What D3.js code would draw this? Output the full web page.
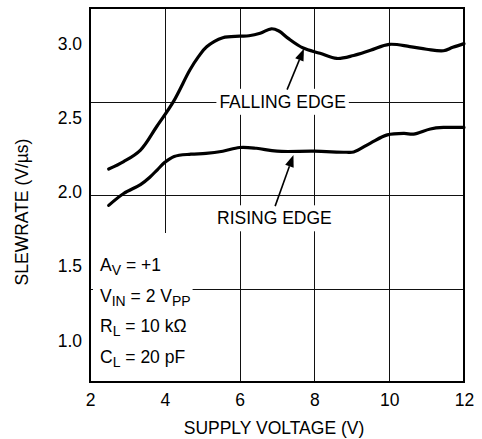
<!DOCTYPE html>
<html>
<head>
<meta charset="utf-8">
<script src="https://cdn.jsdelivr.net/npm/d3@7"></script>
<style>
  html, body { margin: 0; padding: 0; background: #fff; }
  svg { display: block; }
  text { font-family: "Liberation Sans", Arial, Helvetica, sans-serif; fill: #000; }
</style>
</head>
<body>
<svg id="chart" width="482" height="439"></svg>
<script>
// Supply voltage (V) and slew rate (V/µs) readings for each edge
const fallingVolts = [2.5, 2.9, 3.35, 3.78, 4.23, 4.67, 4.9, 5.12, 5.55, 6.0, 6.25, 6.55, 6.85, 7.05, 7.3, 7.7, 8.15, 8.6, 9.05, 9.5, 10.0, 10.55, 11.0, 11.45, 11.7, 12.0];
const fallingSlew  = [2.155, 2.205, 2.283, 2.44, 2.609, 2.822, 2.912, 2.979, 3.04, 3.05, 3.053, 3.07, 3.10, 3.085, 3.035, 2.97, 2.935, 2.90, 2.92, 2.955, 2.995, 2.98, 2.962, 2.952, 2.975, 3.0];
const risingVolts  = [2.5, 2.9, 3.35, 3.6, 3.8, 4.0, 4.25, 4.7, 5.1, 5.55, 6.0, 6.45, 7.0, 8.0, 8.85, 9.05, 9.5, 9.95, 10.4, 10.65, 11.1, 11.45, 12.0];
const risingSlew   = [1.91, 1.99, 2.05, 2.10, 2.15, 2.20, 2.24, 2.255, 2.26, 2.275, 2.30, 2.295, 2.275, 2.275, 2.268, 2.27, 2.33, 2.385, 2.395, 2.39, 2.425, 2.435, 2.435];

const xTicks = [2, 4, 6, 8, 10, 12];
const yTicks = [1.0, 1.5, 2.0, 2.5, 3.0];

const xTitle = "SUPPLY VOLTAGE (V)";
const yTitle = "SLEWRATE (V/µs)";

// Test conditions: [text, isSubscript] pieces
const conditions = [
  [["A", false], ["V", true], [" = +1", false]],
  [["V", false], ["IN", true], [" = 2 V", false], ["PP", true]],
  [["R", false], ["L", true], [" = 10 kΩ", false]],
  [["C", false], ["L", true], [" = 20 pF", false]]
];

// Curve labels with arrow tail/tip in data units
const callouts = [
  { text: "FALLING EDGE", x: 7.15, tail: [7.27, 2.69], tip: [7.72, 2.965] },
  { text: "RISING EDGE",  x: 6.93, y: 1.825, tail: [6.95, 1.905], tip: [7.44, 2.25] }
];

const svg = d3.select("#chart");
const mLeft = 90, mRight = 464, mTop = 8, mBottom = 382;

const x = d3.scaleLinear().domain([2, 12]).range([mLeft, mRight]);
const y = d3.scaleLinear().domain([0.72, 3.24]).range([mBottom, mTop]);
// Horizontal grid divides the frame into four equal bands
const gy = d3.scaleLinear().domain([0, 4]).range([mBottom, mTop]);

const grid = svg.append("g").attr("stroke", "#111").attr("stroke-width", 1);
grid.selectAll("line.v").data(xTicks.slice(1, -1)).join("line")
  .attr("x1", d => Math.round(x(d)) + 0.5).attr("x2", d => Math.round(x(d)) + 0.5)
  .attr("y1", mTop).attr("y2", mBottom);
grid.selectAll("line.h").data([1, 2, 3]).join("line")
  .attr("y1", d => Math.round(gy(d)) + 0.5).attr("y2", d => Math.round(gy(d)) + 0.5)
  .attr("x1", mLeft).attr("x2", mRight);

// Axes: labels only, no tick marks
const xAxis = svg.append("g").attr("transform", `translate(0,${mBottom})`)
  .call(d3.axisBottom(x).tickValues(xTicks).tickFormat(d3.format("d")).tickSize(0).tickPadding(12));
const yAxis = svg.append("g").attr("transform", `translate(${mLeft},0)`)
  .call(d3.axisLeft(y).tickValues(yTicks).tickFormat(d3.format(".1f")).tickSize(0).tickPadding(8));
[xAxis, yAxis].forEach(a => {
  a.select(".domain").remove();
  a.selectAll("text").attr("font-size", 17.5).attr("font-family", "Liberation Sans, Arial, sans-serif").attr("fill", "#000");
});

svg.append("text").attr("x", 274).attr("y", 434).attr("text-anchor", "middle")
  .attr("font-size", 17.5).text(xTitle);
svg.append("text").attr("transform", "translate(28,212) rotate(-90)")
  .attr("text-anchor", "middle").attr("font-size", 17.5).text(yTitle);

// Curves
const line = d3.line().x(d => x(d[0])).y(d => y(d[1])).curve(d3.curveCatmullRom.alpha(0.5));
const series = [d3.zip(fallingVolts, fallingSlew), d3.zip(risingVolts, risingSlew)];
svg.append("g").selectAll("path").data(series).join("path")
  .attr("d", line).attr("fill", "none").attr("stroke", "#000")
  .attr("stroke-width", 3.2).attr("stroke-linejoin", "round").attr("stroke-linecap", "round");

// Callout labels on white backing, plus arrows
const labelFont = 17.5;
callouts.forEach(c => {
  const g = svg.append("g");
  const cy = c.y !== undefined ? y(c.y) : gy(3);
  const t = g.append("text").attr("x", x(c.x)).attr("y", cy).attr("dy", "0.36em")
    .attr("text-anchor", "middle").attr("font-size", labelFont).text(c.text);
  const bb = t.node().getBBox();
  g.insert("rect", "text").attr("x", bb.x - 3).attr("y", bb.y - 3)
    .attr("width", bb.width + 6).attr("height", bb.height + 6).attr("fill", "#fff");

  const tx = x(c.tail[0]), ty = y(c.tail[1]);
  const px = x(c.tip[0]), py = y(c.tip[1]);
  const ang = Math.atan2(py - ty, px - tx);
  const headLen = 12, headHalf = 4.5;
  const bx = px - headLen * Math.cos(ang), by = py - headLen * Math.sin(ang);
  svg.append("line").attr("x1", tx).attr("y1", ty).attr("x2", bx).attr("y2", by)
    .attr("stroke", "#000").attr("stroke-width", 1.6);
  const nx = -Math.sin(ang), ny = Math.cos(ang);
  svg.append("path")
    .attr("d", `M${px},${py}L${bx + nx * headHalf},${by + ny * headHalf}L${bx - nx * headHalf},${by - ny * headHalf}Z`)
    .attr("fill", "#000");
});

// Test-condition block with white backing
const cond = svg.append("g");
const condText = cond.selectAll("text").data(conditions).join("text")
  .attr("x", mLeft + 10).attr("y", (d, i) => 271 + i * 30.5).attr("font-size", 17.5);
condText.each(function(parts) {
  const t = d3.select(this);
  let lowered = false;
  parts.forEach(([s, sub]) => {
    const span = t.append("tspan").text(s);
    if (sub) {
      span.attr("font-size", 14);
      if (!lowered) { span.attr("dy", 4); lowered = true; }
    } else if (lowered) {
      span.attr("dy", -4); lowered = false;
    }
  });
});
const cb = cond.node().getBBox();
cond.insert("rect", "text").attr("x", mLeft + 3).attr("y", 233)
  .attr("width", cb.x + cb.width + 2 - (mLeft + 3)).attr("height", mBottom - 233).attr("fill", "#fff");

// Frame
svg.append("rect").attr("x", mLeft).attr("y", mTop).attr("width", mRight - mLeft).attr("height", mBottom - mTop)
  .attr("fill", "none").attr("stroke", "#000").attr("stroke-width", 2);
</script>
</body>
</html>
